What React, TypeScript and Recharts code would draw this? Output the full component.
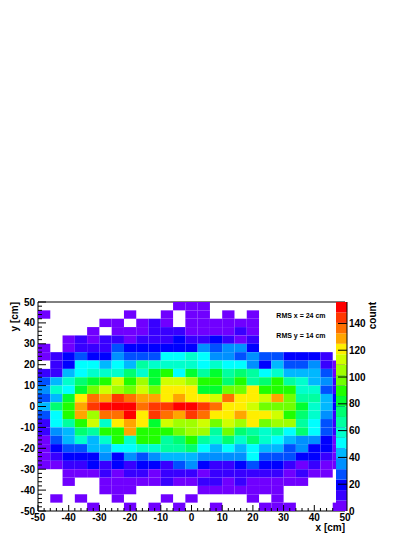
import React from "react";
import {
  BarChart,
  Bar,
  ScatterChart,
  Scatter,
  XAxis,
  YAxis,
  ReferenceArea,
  ReferenceLine,
  Label,
} from "recharts";

const font = '"Liberation Sans", Arial, sans-serif';

const xTicks = [-50, -48, -46, -44, -42, -40, -38, -36, -34, -32, -30, -28, -26, -24, -22, -20, -18, -16, -14, -12, -10, -8, -6, -4, -2, 0, 2, 4, 6, 8, 10, 12, 14, 16, 18, 20, 22, 24, 26, 28, 30, 32, 34, 36, 38, 40, 42, 44, 46, 48, 50];
const countTicks = [0, 20, 40, 60, 80, 100, 120, 140];

// one row per y bin, top row first, 25 bins across x. 0 = empty bin
const r24 = [0, 0, 0, 0, 0, 0, 0, 0, 0, 0, 0, 4, 4, 4, 0, 0, 0, 0, 0, 0, 0, 0, 0, 0, 0];
const r23 = [4, 0, 0, 0, 0, 0, 0, 4, 0, 0, 4, 0, 4, 4, 0, 4, 0, 4, 0, 0, 0, 0, 0, 0, 0];
const r22 = [0, 0, 0, 0, 0, 4, 4, 0, 4, 12, 4, 0, 4, 4, 4, 4, 4, 4, 0, 0, 0, 0, 0, 0, 0];
const r21 = [0, 0, 0, 0, 4, 0, 4, 4, 4, 12, 12, 12, 4, 4, 4, 4, 12, 4, 0, 0, 0, 0, 0, 0, 0];
const r20 = [0, 0, 4, 12, 4, 12, 12, 4, 12, 12, 12, 20, 12, 12, 20, 12, 4, 12, 0, 0, 0, 0, 0, 0, 0];
const r19 = [4, 0, 4, 12, 12, 12, 27, 20, 20, 20, 20, 20, 20, 35, 27, 35, 35, 20, 0, 0, 0, 0, 0, 0, 0];
const r18 = [4, 12, 20, 27, 20, 20, 35, 27, 27, 27, 51, 51, 59, 51, 35, 35, 27, 35, 27, 27, 20, 20, 20, 12, 0];
const r17 = [0, 12, 20, 51, 51, 43, 51, 43, 66, 59, 59, 59, 59, 51, 59, 51, 51, 35, 20, 43, 27, 27, 35, 12, 4];
const r16 = [12, 12, 43, 51, 59, 59, 59, 74, 59, 82, 90, 51, 82, 66, 82, 66, 74, 66, 51, 59, 43, 43, 43, 27, 4];
const r15 = [27, 43, 59, 74, 82, 90, 113, 90, 105, 82, 113, 113, 105, 90, 90, 74, 90, 66, 74, 90, 66, 59, 43, 35, 12];
const r14 = [35, 59, 51, 82, 98, 113, 105, 98, 113, 98, 121, 121, 121, 82, 82, 98, 98, 121, 90, 90, 90, 59, 59, 27, 12];
const r13 = [27, 43, 82, 121, 137, 129, 144, 137, 129, 129, 121, 129, 121, 121, 113, 137, 121, 121, 113, 129, 98, 66, 66, 43, 20];
const r12 = [43, 74, 90, 129, 144, 152, 152, 152, 137, 144, 144, 152, 152, 144, 137, 121, 121, 113, 98, 98, 98, 82, 59, 43, 20];
const r11 = [27, 51, 90, 129, 105, 137, 137, 152, 121, 144, 137, 129, 144, 137, 121, 121, 129, 121, 121, 113, 90, 74, 59, 35, 12];
const r10 = [12, 51, 66, 90, 113, 59, 121, 129, 121, 82, 113, 105, 105, 113, 98, 113, 105, 121, 98, 105, 105, 66, 51, 27, 12];
const r9 = [12, 35, 43, 74, 66, 90, 90, 129, 90, 90, 90, 98, 105, 105, 66, 98, 74, 66, 59, 66, 51, 74, 51, 27, 12];
const r8 = [4, 27, 43, 59, 43, 59, 90, 59, 90, 90, 66, 74, 90, 66, 59, 74, 59, 74, 59, 51, 43, 35, 35, 20, 4];
const r7 = [4, 20, 27, 27, 43, 43, 51, 51, 59, 59, 66, 66, 74, 51, 43, 51, 43, 51, 43, 43, 27, 35, 20, 20, 4];
const r6 = [4, 12, 20, 20, 20, 35, 20, 35, 27, 35, 43, 43, 43, 35, 35, 35, 35, 51, 27, 27, 27, 20, 20, 12, 4];
const r5 = [4, 4, 12, 12, 20, 12, 20, 12, 20, 20, 12, 27, 35, 20, 12, 12, 20, 27, 20, 20, 12, 4, 12, 4, 4];
const r4 = [0, 0, 4, 4, 4, 12, 4, 12, 12, 4, 12, 12, 12, 4, 12, 12, 12, 12, 12, 12, 4, 12, 4, 4, 0];
const r3 = [0, 0, 4, 0, 0, 4, 4, 4, 4, 4, 12, 4, 4, 12, 12, 4, 12, 4, 4, 4, 4, 4, 0, 0, 0];
const r2 = [0, 0, 0, 0, 0, 4, 4, 4, 0, 0, 0, 0, 0, 4, 4, 4, 4, 4, 4, 4, 0, 0, 0, 0, 0];
const r1 = [0, 4, 0, 4, 0, 0, 4, 0, 0, 0, 4, 0, 4, 0, 0, 0, 0, 4, 0, 4, 0, 0, 0, 0, 0];
const r0 = [0, 0, 0, 0, 4, 0, 0, 4, 0, 4, 0, 4, 0, 0, 4, 0, 0, 0, 4, 4, 4, 0, 0, 0, 4];

const rows = [r24, r23, r22, r21, r20, r19, r18, r17, r16, r15, r14, r13, r12, r11, r10, r9, r8, r7, r6, r5, r4, r3, r2, r1, r0];

const palette = [
  "#7000ff", "#3800ff", "#0000ff", "#0050ff", "#0090ff",
  "#00b8ff", "#00ffff", "#00ffcc", "#00ffa0", "#00ff70",
  "#00ff30", "#20ff00", "#70ff00", "#a0ff00", "#d0ff00",
  "#ffee00", "#ffa500", "#ff7000", "#ff3800", "#ff0000",
];

const COUNT_MAX = 156;
const LEVEL = COUNT_MAX / palette.length;
const BIN = 100 / rows.length;
const CELL_W = 307 / rows.length;
const CELL_H = 209 / rows.length;

const cells: { x: number; y: number; count: number }[] = [];
rows.forEach((row, i) => {
  row.forEach((count, j) => {
    if (count > 0) cells.push({ x: -50 + BIN * (j + 0.5), y: 50 - BIN * (i + 0.5), count });
  });
});

const HeatCell = (props: any) => {
  const level = Math.min(Math.floor(props.payload.count / LEVEL), palette.length - 1);
  return <rect x={props.cx - CELL_W / 2} y={props.cy - CELL_H / 2} width={CELL_W} height={CELL_H} fill={palette[level]} />;
};

const XTick = (props: any) => {
  const { x, y, payload } = props;
  const major = payload.value % 10 === 0;
  return (
    <g>
      <line x1={x} y1={y} x2={x} y2={y - (major ? 6 : 3)} stroke="#000" />
      {major && (
        <text x={x} y={y + 10} textAnchor="middle" fontFamily={font} fontSize={10} fontWeight="bold" fill="#000">
          {payload.value}
        </text>
      )}
    </g>
  );
};

const YTick = (props: any) => {
  const { x, y, payload } = props;
  const major = payload.value % 10 === 0;
  return (
    <g>
      <line x1={x} y1={y} x2={x + (major ? 8 : 4)} y2={y} stroke="#000" />
      {major && (
        <text x={x - 3} y={y + 3.5} textAnchor="end" fontFamily={font} fontSize={10} fontWeight="bold" fill="#000">
          {payload.value}
        </text>
      )}
    </g>
  );
};

const CountTick = (props: any) => {
  const { x, y, payload } = props;
  return (
    <g>
      {payload.value > 0 && <line x1={x} y1={y} x2={x - 9} y2={y} stroke="#000" />}
      <text x={x + 2} y={y + 3.5} fontFamily={font} fontSize={10} fontWeight="bold" fill="#000">
        {payload.value}
      </text>
    </g>
  );
};

const axisText = { fontFamily: font, fontSize: 10, fontWeight: "bold", fill: "#000" };

const barRow: any = { name: "count" };
palette.forEach((_, i) => {
  barRow["l" + i] = LEVEL;
});

export default function App() {
  return (
    <div style={{ position: "absolute", left: 0, top: 0, width: 415, height: 537 }}>
      <div style={{ position: "absolute", left: 0, top: 0 }}>
        <ScatterChart width={415} height={537} margin={{ top: 302, right: 70, bottom: 25, left: 37 }}>
          <XAxis
            type="number"
            dataKey="x"
            domain={[-50, 50]}
            ticks={xTicks}
            interval={0}
            height={1}
            tickSize={0}
            tickMargin={0}
            tick={<XTick />}
            stroke="#000"
          >
            <Label
              content={() => (
                <text x={345} y={531} textAnchor="end" {...axisText}>
                  x [cm]
                </text>
              )}
            />
          </XAxis>
          <YAxis
            type="number"
            dataKey="y"
            domain={[-50, 50]}
            ticks={xTicks}
            interval={0}
            width={1}
            tickSize={0}
            tickMargin={0}
            tick={<YTick />}
            stroke="#000"
          >
            <Label
              content={() => (
                <text x={18} y={302} textAnchor="end" transform="rotate(-90 18 302)" {...axisText}>
                  y [cm]
                </text>
              )}
            />
          </YAxis>
          <Scatter data={cells} shape={<HeatCell />} isAnimationActive={false} />
          <ReferenceLine y={50} stroke="#000" />
          <ReferenceArea x1={21.3} x2={50} y1={24.6} y2={37} fill="#fff" fillOpacity={1} stroke="none">
            <Label value="RMS y = 14 cm" position="center" dx={0} dy={-7} style={{ fontFamily: font, fontSize: 7, fontWeight: "bold", fill: "#000" }} />
          </ReferenceArea>
          <ReferenceArea x1={21.3} x2={50} y1={37} y2={50} fill="#fff" fillOpacity={1} stroke="none">
            <Label value="RMS x = 24 cm" position="center" dx={0} dy={0} style={{ fontFamily: font, fontSize: 7, fontWeight: "bold", fill: "#000" }} />
          </ReferenceArea>
        </ScatterChart>
      </div>
      <div style={{ position: "absolute", left: 0, top: 0 }}>
        <BarChart
          width={415}
          height={537}
          data={[barRow]}
          barCategoryGap={0}
          margin={{ top: 302, right: 67, bottom: 26, left: 336 }}
        >
          <XAxis dataKey="name" hide />
          <YAxis
            orientation="right"
            type="number"
            domain={[0, COUNT_MAX]}
            ticks={countTicks}
            interval={0}
            width={1}
            tickSize={0}
            tickMargin={0}
            tick={<CountTick />}
            stroke="#000"
          >
            <Label
              content={() => (
                <text x={376} y={302} textAnchor="end" transform="rotate(-90 376 302)" {...axisText}>
                  count
                </text>
              )}
            />
          </YAxis>
          {palette.map((color, i) => (
            <Bar key={color} dataKey={"l" + i} stackId="levels" fill={color} isAnimationActive={false} />
          ))}
        </BarChart>
      </div>
    </div>
  );
}
